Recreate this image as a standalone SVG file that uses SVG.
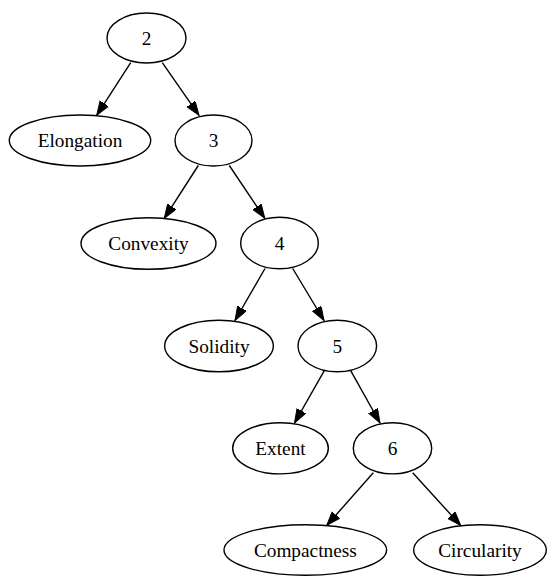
<svg xmlns="http://www.w3.org/2000/svg" width="547" height="576" viewBox="0 0 547 576">
  <style>
    .node ellipse { fill: #ffffff; stroke: #000000; stroke-width: 1.4; }
    .node text { font-family: "Liberation Serif", "Times New Roman", serif; font-size: 19.3px; text-anchor: middle; fill: #000000; }
    .edge { stroke: #000000; stroke-width: 1.4; fill: none; marker-end: url(#arrow); }
  </style>
  <defs>
    <marker id="arrow" markerUnits="userSpaceOnUse" markerWidth="16" markerHeight="12" refX="14" refY="5" orient="auto">
      <polygon points="0,0 14,5 0,10" fill="#000000" stroke="#000000" stroke-width="1"/>
    </marker>
  </defs>
  <rect width="547" height="576" fill="#ffffff"/>

  <g id="edges">
    <line class="edge" x1="130.7" y1="62.7" x2="96.7" y2="115.3"/>
    <line class="edge" x1="162.3" y1="62.7" x2="199" y2="115.3"/>
    <line class="edge" x1="198.3" y1="165.5" x2="164.3" y2="218.3"/>
    <line class="edge" x1="229.3" y1="165.5" x2="264.8" y2="218.3"/>
    <line class="edge" x1="265" y1="268.5" x2="235" y2="320.5"/>
    <line class="edge" x1="292.7" y1="268.5" x2="324" y2="320.5"/>
    <line class="edge" x1="324.3" y1="370.7" x2="294.5" y2="423"/>
    <line class="edge" x1="350.7" y1="370.7" x2="380" y2="423"/>
    <line class="edge" x1="373.3" y1="472.7" x2="326.7" y2="525.5"/>
    <line class="edge" x1="412.7" y1="472.7" x2="460.7" y2="525.5"/>
  </g>

  <g id="n2" class="node">
    <ellipse cx="146.5" cy="38" rx="39.5" ry="25"/>
    <text x="146.5" y="44.5">2</text>
  </g>
  <g id="elongation" class="node">
    <ellipse cx="80" cy="140.5" rx="70.7" ry="25.5"/>
    <text x="80" y="147">Elongation</text>
  </g>
  <g id="n3" class="node">
    <ellipse cx="213.5" cy="140.5" rx="38.5" ry="25.5"/>
    <text x="213.5" y="147">3</text>
  </g>
  <g id="convexity" class="node">
    <ellipse cx="148.5" cy="243.5" rx="67.5" ry="25.8"/>
    <text x="148.5" y="250">Convexity</text>
  </g>
  <g id="n4" class="node">
    <ellipse cx="279.5" cy="243" rx="38.8" ry="25.8"/>
    <text x="279.5" y="249.5">4</text>
  </g>
  <g id="solidity" class="node">
    <ellipse cx="219" cy="346" rx="54.3" ry="25.8"/>
    <text x="219" y="352.5">Solidity</text>
  </g>
  <g id="n5" class="node">
    <ellipse cx="337.3" cy="346" rx="39.3" ry="25.8"/>
    <text x="337.3" y="352.5">5</text>
  </g>
  <g id="extent" class="node">
    <ellipse cx="280.5" cy="448.3" rx="47.8" ry="25.6"/>
    <text x="280.5" y="454.8">Extent</text>
  </g>
  <g id="n6" class="node">
    <ellipse cx="392.5" cy="448.3" rx="39.2" ry="25.6"/>
    <text x="392.5" y="454.8">6</text>
  </g>
  <g id="compactness" class="node">
    <ellipse cx="305.3" cy="550" rx="81.3" ry="25.3"/>
    <text x="305.3" y="556.5">Compactness</text>
  </g>
  <g id="circularity" class="node">
    <ellipse cx="480" cy="550" rx="66.3" ry="25.3"/>
    <text x="480" y="556.5">Circularity</text>
  </g>
</svg>
